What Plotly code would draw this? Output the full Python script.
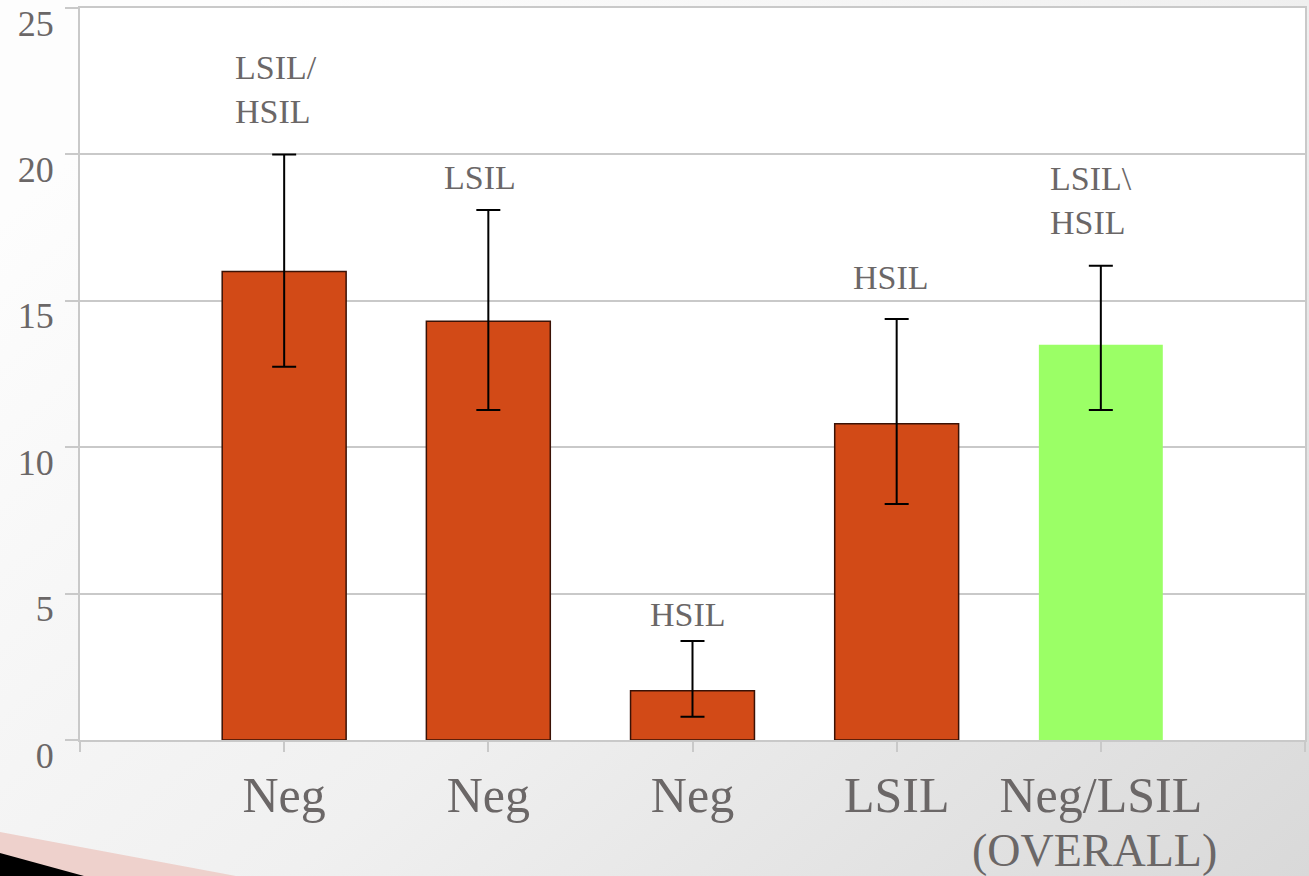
import base64
import plotly.graph_objects as go

# ---- data ----
positions = [1, 2, 3, 4, 5]
values = [16.0, 14.3, 1.68, 10.8, 13.5]
err_upper = [20.0, 18.1, 3.38, 14.38, 16.2]
err_lower = [12.75, 11.27, 0.79, 8.06, 11.27]
bar_colors = ["#D24A17", "#D24A17", "#D24A17", "#D24A17", "#9BFF66"]
bar_lines = [1.5, 1.5, 1.5, 1.5, 0]
top_labels = ["LSIL/<br>HSIL", "LSIL", "HSIL", "HSIL", "LSIL\\<br>HSIL"]
top_label_y = [20.76, 18.51, 3.59, 15.10, 16.97]
top_label_dx = [-0.04, -0.04, -0.02, -0.03, -0.05]
x_tickvals = [0, 1, 2, 3, 4, 5, 6]
x_ticktext = ["", "Neg", "Neg", "Neg", "LSIL", "Neg/LSIL", ""]
x_subtitle = "(OVERALL)"
y_tickvals = [0, 5, 10, 15, 20, 25]

W, H = 1309, 876
L, R, T, B = 80, 4, 8, 136
pw, ph = W - L - R, H - T - B

svg = f"""<svg xmlns='http://www.w3.org/2000/svg' width='{W}' height='{H}' viewBox='0 0 {W} {H}' preserveAspectRatio='none'>
<defs>
<linearGradient id='g' x1='0' y1='0.25' x2='1' y2='1'>
<stop offset='0' stop-color='#fdfdfd'/><stop offset='0.5' stop-color='#f0f0f0'/><stop offset='1' stop-color='#d9d9d9'/>
</linearGradient>
</defs>
<rect width='{W}' height='{H}' fill='url(#g)'/>
<polygon points='0,832 236,876 0,876' fill='#eed1cc'/>
<polygon points='0,853 84,876 0,876' fill='#000000'/>
</svg>"""
svg_uri = "data:image/svg+xml;base64," + base64.b64encode(svg.encode()).decode()

fig = go.Figure()
fig.add_trace(go.Bar(
    x=positions, y=values, width=0.607,
    marker=dict(color=bar_colors, line=dict(color="#3a1206", width=bar_lines)),
    error_y=dict(type="data", symmetric=False,
                 array=[u - v for u, v in zip(err_upper, values)],
                 arrayminus=[v - l for v, l in zip(values, err_lower)],
                 color="black", thickness=2, width=12),
    showlegend=False, hoverinfo="skip",
))

for xp, txt, yp, dx in zip(positions, top_labels, top_label_y, top_label_dx):
    fig.add_annotation(x=xp + dx, y=yp, text=txt, showarrow=False, xanchor="center",
                       yanchor="bottom", align="left",
                       font=dict(family="Liberation Serif", size=34, color="#6b6767"))

fig.add_annotation(x=positions[-1] - 0.03, xref="x", y=-111 / ph, yref="paper", text=x_subtitle,
                   showarrow=False, xanchor="center", yanchor="middle",
                   font=dict(family="Liberation Serif", size=46, color="#6b6767"))

fig.add_layout_image(dict(source=svg_uri, xref="paper", yref="paper",
                          x=-L / pw, y=(ph + T) / ph, sizex=W / pw, sizey=H / ph,
                          xanchor="left", yanchor="top", sizing="stretch", layer="below"))
fig.add_shape(type="rect", xref="paper", yref="paper", x0=0, x1=1, y0=0, y1=1,
              fillcolor="white", line=dict(width=0), layer="below")

grid = "#c9c9c9"
fig.update_layout(
    width=W, height=H, margin=dict(l=L, r=R, t=T, b=B, autoexpand=False),
    paper_bgcolor="#eeeeee", plot_bgcolor="white",
    xaxis=dict(range=[0, 6], tickvals=x_tickvals, ticktext=x_ticktext, automargin=False,
               showgrid=False, zeroline=False, showline=True, linecolor=grid, linewidth=2,
               mirror=True, ticks="outside", ticklen=10, tickcolor=grid, tickwidth=2,
               ticklabelstandoff=0,
               tickfont=dict(family="Liberation Serif", size=50, color="#6b6767")),
    yaxis=dict(range=[0, 25], tickvals=y_tickvals, showgrid=True, gridcolor=grid, gridwidth=2,
               automargin=False,
               zeroline=False, showline=True, linecolor=grid, linewidth=2, mirror=True,
               ticks="outside", ticklen=13, tickcolor=grid, tickwidth=2,
               ticklabelshift=15, ticklabelstandoff=4,
               tickfont=dict(family="Liberation Serif", size=36, color="#6b6767")),
    font=dict(family="Liberation Serif"),
)

fig.write_html("out.html", config={"displayModeBar": False},
               post_script="document.body.style.margin='0px';document.body.style.overflow='hidden';")
